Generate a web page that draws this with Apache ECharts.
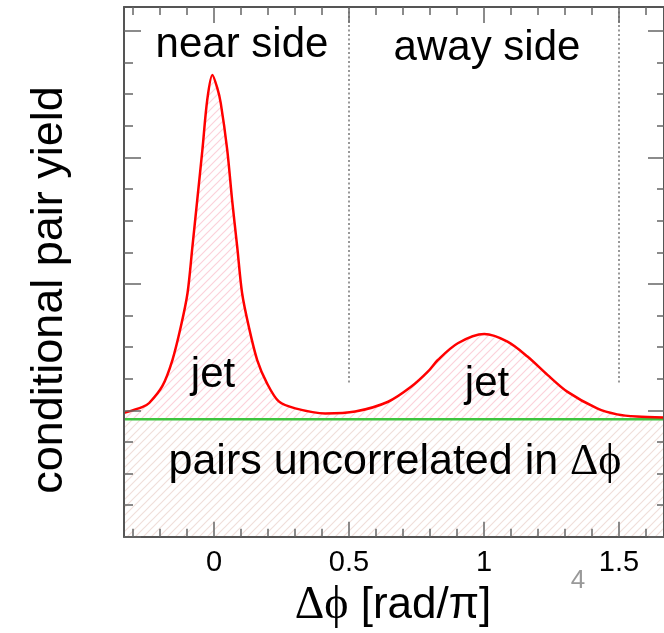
<!DOCTYPE html>
<html><head><meta charset="utf-8">
<script src="https://cdn.jsdelivr.net/npm/echarts@6/dist/echarts.min.js"></script>
<style>html,body{margin:0;padding:0;background:#fff}#c{width:664px;height:633px}</style>
</head><body><div id="c"></div>
<script>
// ---- data ----
const curveX = [-0.333, -0.264, -0.240, -0.191, -0.154, -0.123, -0.098, -0.080, -0.062, -0.043, -0.025, -0.006, 0.012, 0.025, 0.049, 0.067, 0.086, 0.104, 0.129, 0.160, 0.196, 0.240, 0.301, 0.412, 0.523, 0.645, 0.731, 0.792, 0.829, 0.903, 1.001, 1.087, 1.161, 1.235, 1.308, 1.419, 1.493, 1.566, 1.667];
const curveY = [3.92, 4.11, 4.23, 4.77, 5.59, 6.64, 7.71, 9.17, 10.66, 12.24, 13.82, 14.61, 14.2, 13.72, 12.24, 10.66, 9.17, 7.71, 6.64, 5.59, 4.86, 4.28, 4.06, 3.90, 3.96, 4.27, 4.75, 5.22, 5.59, 6.12, 6.41, 6.17, 5.70, 5.12, 4.59, 4.06, 3.87, 3.80, 3.77];
const baselineX = [-0.3333, 1.6667];
const baselineY = [3.715, 3.715];
const xMajorTicks = [0, 0.5, 1, 1.5];
const xTickLabels = ['0', '0.5', '1', '1.5'];
const xMinorTicks = [-0.3, -0.2, -0.1, 0.1, 0.2, 0.3, 0.4, 0.6, 0.7, 0.8, 0.9, 1.1, 1.2, 1.3, 1.4, 1.6];
const yMajorTicks = [0, 4, 8, 12, 16];
const yMinorTicks = [1, 2, 3, 5, 6, 7, 9, 10, 11, 13, 14, 15];
const dividerX = [0.5, 1.5];
const dividerTop = 16.76;
const dividerBottom = 4.86;
const regionLabels = ['near side', 'away side'];
const jetLabel = 'jet';
const uncorrLabel = 'pairs uncorrelated in ';
const xTitle = '[rad/π]';
const yTitle = 'conditional pair yield';

const XMIN = -1 / 3, XMAX = 5 / 3, YMIN = 0, YMAX = 16.76;
const AX = '#555', TK = '#666';

function hatch(color, bg) {
  const c = document.createElement('canvas');
  c.width = 8; c.height = 8;
  const g = c.getContext('2d');
  g.fillStyle = bg || '#ffffff'; g.fillRect(0, 0, 8, 8);
  g.strokeStyle = color; g.lineWidth = 1.2;
  g.beginPath();
  g.moveTo(-1, 9); g.lineTo(9, -1);
  g.moveTo(-1, 1); g.lineTo(1, -1);
  g.moveTo(7, 9); g.lineTo(9, 7);
  g.stroke();
  return c;
}

function xAx(pos, vals, len, opts) {
  return Object.assign({
    type: 'value', min: XMIN, max: XMAX, position: pos, gridIndex: 0, z: 10,
    axisLine: { show: false, onZero: false }, splitLine: { show: false },
    axisLabel: { show: false },
    axisTick: { show: true, inside: true, length: len, customValues: vals, lineStyle: { color: TK, width: 1.5 } }
  }, opts || {});
}
function yAx(pos, vals, len, opts) {
  return Object.assign({
    type: 'value', min: YMIN, max: YMAX, position: pos, gridIndex: 0, z: 10,
    axisLine: { show: false, onZero: false }, splitLine: { show: false },
    axisLabel: { show: false },
    axisTick: { show: true, inside: true, length: len, customValues: vals, lineStyle: { color: TK, width: 1.5 } }
  }, opts || {});
}

const chart = echarts.init(document.getElementById('c'), null, { renderer: 'canvas' });
const FONT = '"Liberation Sans", Arial, Helvetica, sans-serif';
const SERIF = '"Liberation Serif", "DejaVu Serif", serif';

const curve = curveX.map((x, i) => [x, curveY[i]]);
const base = baselineX.map((x, i) => [x, baselineY[i]]);

chart.setOption({
  backgroundColor: '#fff',
  animation: false,
  grid: { left: 124, top: 7, width: 542.6, height: 529.7, containLabel: false },
  xAxis: [
    xAx('bottom', xMajorTicks, 15, {
      axisLine: { show: true, onZero: false, lineStyle: { color: AX, width: 2 } },
      axisLabel: { show: true, customValues: xMajorTicks, margin: 12, color: '#000', fontSize: 29, fontFamily: FONT,
        formatter: v => xTickLabels[xMajorTicks.indexOf(v)] }
    }),
    xAx('bottom', xMinorTicks, 8),
    xAx('top', xMajorTicks, 16, { axisLine: { show: true, onZero: false, lineStyle: { color: AX, width: 2 } } }),
    xAx('top', xMinorTicks, 8)
  ],
  yAxis: [
    yAx('left', yMajorTicks, 17, { axisLine: { show: true, onZero: false, lineStyle: { color: AX, width: 2 } } }),
    yAx('left', yMinorTicks, 9),
    yAx('right', yMajorTicks, 16, { axisLine: { show: true, onZero: false, lineStyle: { color: AX, width: 2 } } }),
    yAx('right', yMinorTicks, 7)
  ],
  series: [
    { type: 'line', data: curve, smooth: 0.3, symbol: 'none', z: 1,
      lineStyle: { width: 0 },
      areaStyle: { color: { image: hatch('#fcd2da'), repeat: 'repeat' }, opacity: 1 } },
    { type: 'line', data: base, symbol: 'none', z: 2,
      lineStyle: { width: 0 },
      areaStyle: { color: { image: hatch('#f0dfda'), repeat: 'repeat' }, opacity: 1 } },
    { type: 'line', data: base, symbol: 'none', z: 3,
      lineStyle: { color: '#3fc43f', width: 2.5 } },
    { type: 'line', data: curve, smooth: 0.3, symbol: 'none', z: 4,
      lineStyle: { color: '#ff0000', width: 2.5 },
      markLine: {
        silent: true, symbol: 'none', label: { show: false },
        lineStyle: { color: '#777', type: [2, 2.5], width: 1.5 },
        data: dividerX.map(x => [{ coord: [x, dividerTop] }, { coord: [x, dividerBottom] }])
      } }
  ],
  graphic: [
    { type: 'text', x: 242, y: 45, style: { text: regionLabels[0], font: '42px ' + FONT, fill: '#000', align: 'center', verticalAlign: 'middle' }, z: 10 },
    { type: 'text', x: 487, y: 48, style: { text: regionLabels[1], font: '42px ' + FONT, fill: '#000', align: 'center', verticalAlign: 'middle' }, z: 10 },
    { type: 'text', x: 213, y: 375, style: { text: jetLabel, font: '42px ' + FONT, fill: '#000', align: 'center', verticalAlign: 'middle' }, z: 10 },
    { type: 'text', x: 487, y: 384, style: { text: jetLabel, font: '42px ' + FONT, fill: '#000', align: 'center', verticalAlign: 'middle' }, z: 10 },
    { type: 'text', x: 395, y: 462, style: {
        text: uncorrLabel + '{g|Δϕ}', font: '43px ' + FONT, fill: '#000', align: 'center', verticalAlign: 'middle',
        rich: { g: { fontFamily: SERIF, fontSize: 44, fill: '#000' } } }, z: 10 },
    { type: 'text', x: 393, y: 606, style: {
        text: '{g|Δϕ} ' + xTitle, font: '44px ' + FONT, fill: '#000', align: 'center', verticalAlign: 'middle',
        rich: { g: { fontFamily: SERIF, fontSize: 46, fill: '#000' } } }, z: 10 },
    { type: 'text', x: 50, y: 290, rotation: Math.PI / 2, style: { text: yTitle, font: '45px ' + FONT, fill: '#000', align: 'center', verticalAlign: 'middle' }, z: 10 },
    { type: 'text', x: 578, y: 581, style: { text: '4', font: '26px ' + FONT, fill: '#999', align: 'center', verticalAlign: 'middle' }, z: 10 }
  ]
});
</script></body></html>
